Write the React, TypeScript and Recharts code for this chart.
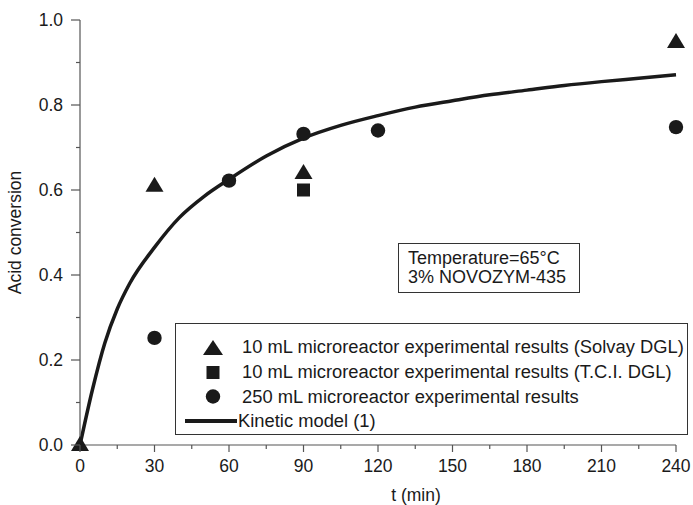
import React from 'react';
import { ComposedChart, Line, Scatter, XAxis, YAxis, Legend, Label } from 'recharts';

// ---- data ----
const timeTicks = [0, 15, 30, 45, 60, 75, 90, 105, 120, 135, 150, 165, 180, 195, 210, 225, 240];
const timeLabels = [0, 30, 60, 90, 120, 150, 180, 210, 240];
const convTicks = [0, 0.1, 0.2, 0.3, 0.4, 0.5, 0.6, 0.7, 0.8, 0.9, 1.0];
const convLabels = ['0.0', '0.2', '0.4', '0.6', '0.8', '1.0'];

const solvayTime = [0, 30, 90, 240];
const solvayConv = [0, 0.61, 0.64, 0.948];

const tciTime = [90];
const tciConv = [0.6];

const ml250Time = [30, 60, 90, 120, 240];
const ml250Conv = [0.252, 0.622, 0.732, 0.74, 0.748];

const modelTime = [0, 5, 10, 15, 20, 30, 40, 50, 60, 75, 90, 105, 120, 135, 150, 165, 180, 195, 210, 225, 240];
const modelConv = [0, 0.13, 0.24, 0.32, 0.38, 0.465, 0.535, 0.585, 0.625, 0.68, 0.722, 0.752, 0.775, 0.795, 0.81, 0.824, 0.835, 0.846, 0.855, 0.863, 0.871];

const seriesNames = [
  '10 mL microreactor experimental results (Solvay DGL)',
  '10 mL microreactor experimental results (T.C.I. DGL)',
  '250 mL microreactor experimental results',
  'Kinetic model (1)',
];

const zip = (ts: number[], vs: number[]) => ts.map((t, i) => ({ t, v: vs[i] }));
const solvayData = zip(solvayTime, solvayConv);
const tciData = zip(tciTime, tciConv);
const ml250Data = zip(ml250Time, ml250Conv);
const modelData = zip(modelTime, modelConv);

const FONT = '"Liberation Sans", Arial, Helvetica, sans-serif';
const INK = '#1a1a1a';
const AXIS = '#555';

const Tri = (p: any) => {
  const { cx, cy } = p;
  if (cx == null || cy == null) return null;
  return <polygon points={`${cx},${cy - 9} ${cx - 9},${cy + 6} ${cx + 9},${cy + 6}`} fill={INK} />;
};
const Sq = (p: any) => {
  const { cx, cy } = p;
  if (cx == null || cy == null) return null;
  return <rect x={cx - 6.5} y={cy - 6.5} width={13} height={13} fill={INK} />;
};
const Circ = (p: any) => {
  const { cx, cy } = p;
  if (cx == null || cy == null) return null;
  return <circle cx={cx} cy={cy} r={7.2} fill={INK} />;
};

const XTick = (p: any) => {
  const { x, y, payload } = p;
  const v = payload.value;
  const major = timeLabels.includes(v);
  return (
    <g>
      <line x1={x} x2={x} y1={y} y2={y + (major ? 7 : 4)} stroke={AXIS} strokeWidth={1.2} />
      {major && (
        <text x={x} y={y + 27} textAnchor="middle" fontFamily={FONT} fontSize={17.5} fill={INK}>
          {v}
        </text>
      )}
    </g>
  );
};

const YTick = (p: any) => {
  const { x, y, payload } = p;
  const v = payload.value;
  const label = v.toFixed(1);
  const major = convLabels.includes(label);
  return (
    <g>
      <line x1={x - (major ? 9 : 4)} x2={x} y1={y} y2={y} stroke={AXIS} strokeWidth={1.2} />
      {major && (
        <text x={x - 17} y={y + 6} textAnchor="end" fontFamily={FONT} fontSize={17.5} fill={INK}>
          {label}
        </text>
      )}
    </g>
  );
};

const YLabel = (p: any) => {
  const vb = p.viewBox || { x: 0, y: 0, width: 0, height: 0 };
  const cx = vb.x + 15;
  const cy = vb.y + vb.height / 2;
  return (
    <text x={cx} y={cy} transform={`rotate(-90 ${cx} ${cy})`} textAnchor="middle" dominantBaseline="central" fontFamily={FONT} fontSize={17.5} fill={INK}>
      Acid conversion
    </text>
  );
};

const XLabel = (p: any) => {
  const vb = p.viewBox || { x: 0, y: 0, width: 0, height: 0 };
  const cx = vb.x + vb.width / 2 + 38;
  const cy = vb.y + 56;
  return (
    <text x={cx} y={cy} textAnchor="middle" fontFamily={FONT} fontSize={17.5} fill={INK}>
      t (min)
    </text>
  );
};

const legendMarkers = [
  <polygon key="a" points="10,1 0,16 20,16" fill={INK} />,
  <rect key="b" x={3.5} y={2} width={13} height={13} fill={INK} />,
  <circle key="c" cx={10} cy={8.5} r={7.2} fill={INK} />,
];

const renderLegend = () => (
  <div
    style={{
      width: 511,
      height: 99,
      border: `1.5px solid #333`,
      background: '#fff',
      fontFamily: FONT,
      fontSize: 18.35,
      color: INK,
      boxSizing: 'content-box',
      paddingTop: 11,
      overflow: 'visible',
    }}
  >
    {seriesNames.map((name, i) => (
      <div key={name} style={{ display: 'flex', alignItems: 'center', height: 24.7, whiteSpace: 'nowrap', width: 511 }}>
        <div style={{ width: 66, minWidth: 66, flexShrink: 0, display: 'flex' }}>
          {i < 3 ? (
            <svg width={20} height={17} style={{ marginLeft: 27 }}>
              {legendMarkers[i]}
            </svg>
          ) : (
            <svg width={52} height={6} style={{ marginLeft: 9 }}>
              <line x1={0} x2={52} y1={3} y2={3} stroke={INK} strokeWidth={4} />
            </svg>
          )}
        </div>
        <span style={{ marginLeft: i < 3 ? 0 : -4, flexShrink: 0 }}>{name}</span>
      </div>
    ))}
  </div>
);

export default function App() {
  return (
    <div style={{ position: 'absolute', left: 0, top: 0, width: 693, height: 505, background: '#fff' }}>
      <ComposedChart width={693} height={505} margin={{ top: 20, right: 17, bottom: 0, left: 0 }}>
        <XAxis
          type="number"
          dataKey="t"
          domain={[0, 240]}
          ticks={timeTicks}
          interval={0}
          tickSize={0}
          tickMargin={0}
          tickLine={false}
          tick={<XTick />}
          height={60}
          stroke={AXIS}
          strokeWidth={1.2}
          allowDuplicatedCategory={false}
        >
          <Label content={<XLabel />} />
        </XAxis>
        <YAxis
          type="number"
          dataKey="v"
          domain={[0, 1]}
          ticks={convTicks}
          interval={0}
          tickSize={0}
          tickMargin={0}
          tickLine={false}
          tick={<YTick />}
          width={80}
          stroke={AXIS}
          strokeWidth={1.2}
        >
          <Label content={<YLabel />} />
        </YAxis>
        <Legend
          layout="vertical"
          align="center"
          verticalAlign="middle"
          content={renderLegend}
          wrapperStyle={{ position: 'absolute', left: 175, top: 323, width: 'auto' }}
        />
        <Line
          data={modelData}
          dataKey="v"
          name={seriesNames[3]}
          type="monotone"
          stroke={INK}
          strokeWidth={3.5}
          dot={false}
          activeDot={false}
          isAnimationActive={false}
        />
        <Scatter data={ml250Data} dataKey="v" name={seriesNames[2]} shape={<Circ />} isAnimationActive={false} />
        <Scatter data={tciData} dataKey="v" name={seriesNames[1]} shape={<Sq />} isAnimationActive={false} />
        <Scatter data={solvayData} dataKey="v" name={seriesNames[0]} shape={<Tri />} isAnimationActive={false} />
      </ComposedChart>
      <div
        style={{
          position: 'absolute',
          left: 398,
          top: 243,
          width: 182,
          height: 50,
          border: '1.5px solid #333',
          fontFamily: FONT,
          fontSize: 18,
          lineHeight: '19px',
          color: INK,
          paddingLeft: 9,
          paddingTop: 5,
          boxSizing: 'border-box',
          whiteSpace: 'nowrap',
          background: '#fff',
        }}
      >
        <div>Temperature=65°C</div>
        <div>3% NOVOZYM-435</div>
      </div>
    </div>
  );
}
